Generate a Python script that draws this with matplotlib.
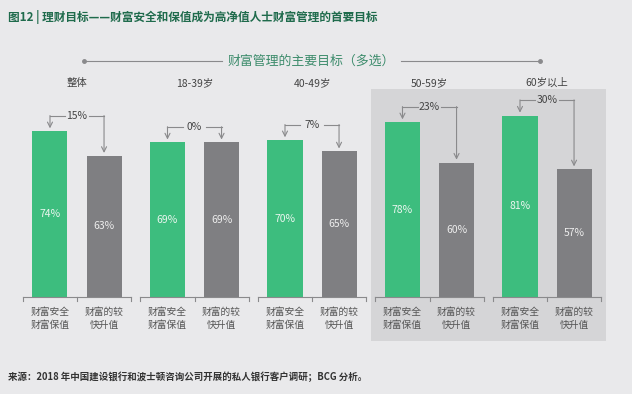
import numpy as np
import matplotlib.pyplot as plt
from matplotlib.patches import Rectangle

plt.rcParams['font.family'] = ['Noto Sans CJK SC', 'DejaVu Sans']

# data
groups = ['整体', '18-39岁', '40-49岁', '50-59岁', '60岁以上']
safe = [74, 69, 70, 78, 81]        # 财富安全 / 财富保值
growth = [63, 69, 65, 60, 57]      # 财富的较快升值
diffs = ['15%', '0%', '7%', '23%', '30%']
cat_labels = ['财富安全\n财富保值', '财富的较\n快升值']

title = '图12 | 理财目标——财富安全和保值成为高净值人士财富管理的首要目标'
subtitle = '财富管理的主要目标（多选）'
source = '来源：2018 年中国建设银行和波士顿咨询公司开展的私人银行客户调研；BCG 分析。'

bg = '#e9e9eb'
shade = '#d5d5d7'
green = '#3dbd7e'
grey = '#7f7f82'
line_c = '#8a8a8c'

fig = plt.figure(figsize=(6.32, 3.94), dpi=100, facecolor=bg)
ax = fig.add_axes([0.0289, 0.2462, 0.9296, 0.5685])
ax.set_facecolor('none')
ax.set_xlim(-0.5, 4.5)
ax.set_ylim(0, 100)
ax.axis('off')

x = np.arange(len(groups))
off = 0.23
w = 0.298

# shaded block behind the two older groups
ax.add_patch(Rectangle((2.5, -19.6), 2.0, 112.5, facecolor=shade,
                       edgecolor='none', zorder=0, clip_on=False))

ax.bar(x - off, safe, w, color=green, zorder=2)
ax.bar(x + off, growth, w, color=grey, zorder=2)

for i in range(len(groups)):
    # values inside bars
    ax.text(x[i] - off, safe[i] / 2, f'{safe[i]}%', ha='center', va='center',
            color='#eaf6ef', fontsize=7.5, zorder=3)
    ax.text(x[i] + off, growth[i] / 2, f'{growth[i]}%', ha='center', va='center',
            color='#ededed', fontsize=7.5, zorder=3)

    # axis segment with ticks under each group
    ax.plot([x[i] - 0.46, x[i] + 0.46], [0, 0], color=line_c, lw=0.8, clip_on=False)
    for t in [x[i] - 0.46, x[i], x[i] + 0.46]:
        ax.plot([t, t], [0, -1.8], color=line_c, lw=0.8, clip_on=False)

    # category labels
    ax.text(x[i] - off, -4.5, cat_labels[0], ha='center', va='top', fontsize=7,
            color='#555555', linespacing=1.35, clip_on=False)
    ax.text(x[i] + off, -4.5, cat_labels[1], ha='center', va='top', fontsize=7,
            color='#555555', linespacing=1.35, clip_on=False)

    # group name
    ax.text(x[i], 95.5, groups[i], ha='center', va='center', fontsize=7.5,
            color='#444444', clip_on=False)

    # difference bracket with arrows
    yl = max(safe[i], growth[i]) + 7
    ax.plot([x[i] - off, x[i] - 0.1], [yl, yl], color=line_c, lw=0.8)
    ax.plot([x[i] + 0.1, x[i] + off], [yl, yl], color=line_c, lw=0.8)
    ax.annotate('', xy=(x[i] - off, safe[i] + 1.3), xytext=(x[i] - off, yl),
                arrowprops=dict(arrowstyle='->', color=line_c, lw=0.8,
                                shrinkA=0, shrinkB=0, mutation_scale=9))
    ax.annotate('', xy=(x[i] + off, growth[i] + 1.3), xytext=(x[i] + off, yl),
                arrowprops=dict(arrowstyle='->', color=line_c, lw=0.8,
                                shrinkA=0, shrinkB=0, mutation_scale=9))
    ax.text(x[i], yl, diffs[i], ha='center', va='center', fontsize=7.5,
            color='#444444')

# subtitle with side rules
ax.plot([0.06, 1.234], [105.4, 105.4], color=line_c, lw=0.8, clip_on=False)
ax.plot([2.757, 3.94], [105.4, 105.4], color=line_c, lw=0.8, clip_on=False)
ax.plot([0.06, 3.94], [105.4, 105.4], 'o', color=line_c, ms=2.5, clip_on=False)
ax.text(1.99, 105.4, subtitle, ha='center', va='center', fontsize=9.3,
        color='#3d8c6c', clip_on=False)

fig.text(0.013, 0.957, title, ha='left', va='center', fontsize=8.4,
         fontweight='bold', color='#1f6b4c')
fig.text(0.013, 0.043, source, ha='left', va='center', fontsize=6.8,
         fontweight='bold', color='#333333')

fig.savefig('out.png', dpi=100, facecolor=bg)
